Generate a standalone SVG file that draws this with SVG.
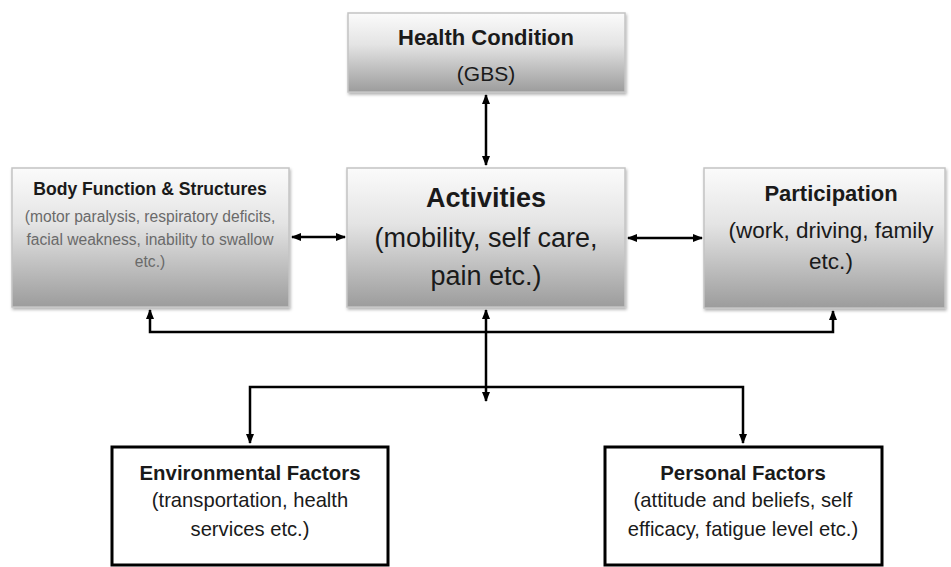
<svg xmlns="http://www.w3.org/2000/svg" width="951" height="567" viewBox="0 0 951 567">
<defs>
<linearGradient id="g" x1="0" y1="0" x2="0" y2="1">
<stop offset="0" stop-color="#fbfbfb"/>
<stop offset="0.4" stop-color="#e4e4e4"/>
<stop offset="1" stop-color="#9c9c9c"/>
</linearGradient>
<marker id="ah" viewBox="0 0 10 10" refX="9" refY="5" markerWidth="4" markerHeight="4" orient="auto-start-reverse" markerUnits="strokeWidth">
<path d="M0,1 L10,5 L0,9 z" fill="#000"/>
</marker>
<filter id="sh" x="-5%" y="-5%" width="110%" height="115%">
<feDropShadow dx="1" dy="2" stdDeviation="1.5" flood-color="#000" flood-opacity="0.3"/>
</filter>
</defs>
<style>
.gbox{fill:url(#g);stroke:#c4c4c4;stroke-width:1.5;filter:url(#sh)}
.wbox{fill:#fff;stroke:#000;stroke-width:3}
.t{font-family:"Liberation Sans",Arial,sans-serif;text-anchor:middle;fill:#1a1a1a}
.b{font-weight:bold}
.gr{fill:#6a6a6a}
.c{fill:none;stroke:#000;stroke-width:2.5}
</style>
<g id="connectors">
<path class="c" d="M486,95 V165" marker-start="url(#ah)" marker-end="url(#ah)"/>
<path class="c" d="M292,237 H345" marker-start="url(#ah)" marker-end="url(#ah)"/>
<path class="c" d="M628,238 H702" marker-start="url(#ah)" marker-end="url(#ah)"/>
<path class="c" d="M150,310 V332 H833 V311" marker-start="url(#ah)" marker-end="url(#ah)"/>
<path class="c" d="M486,310 V401" marker-start="url(#ah)" marker-end="url(#ah)"/>
<path class="c" d="M250,443 V387 H743 V443" marker-start="url(#ah)" marker-end="url(#ah)"/>
</g>
<g id="health">
<rect class="gbox" x="348" y="13" width="277" height="79"/>
<text class="t b" x="486" y="45" font-size="22">Health Condition</text>
<text class="t" x="486" y="81" font-size="21">(GBS)</text>
</g>
<g id="body">
<rect class="gbox" x="12" y="168" width="277" height="139"/>
<text class="t b" x="150" y="195" font-size="17.6">Body Function &amp; Structures</text>
<text class="t gr" x="150" y="222" font-size="15.6">(motor paralysis, respiratory deficits,</text>
<text class="t gr" x="150" y="245" font-size="15.6">facial weakness, inability to swallow</text>
<text class="t gr" x="150" y="267" font-size="15.6">etc.)</text>
</g>
<g id="activities">
<rect class="gbox" x="347" y="168" width="278" height="139"/>
<text class="t b" x="486" y="207" font-size="27">Activities</text>
<text class="t" x="486" y="247" font-size="27">(mobility, self care,</text>
<text class="t" x="486" y="285" font-size="27">pain etc.)</text>
</g>
<g id="participation">
<rect class="gbox" x="704" y="168" width="241" height="140"/>
<text class="t b" x="831" y="201" font-size="22">Participation</text>
<text class="t" x="831" y="238" font-size="22.5">(work, driving, family</text>
<text class="t" x="831" y="269" font-size="22.5">etc.)</text>
</g>
<g id="environmental">
<rect class="wbox" x="112" y="447" width="276" height="118"/>
<text class="t b" x="250" y="480" font-size="20.4">Environmental Factors</text>
<text class="t" x="250" y="507" font-size="20.2">(transportation, health</text>
<text class="t" x="250" y="536" font-size="20.2">services etc.)</text>
</g>
<g id="personal">
<rect class="wbox" x="605" y="447" width="277" height="118"/>
<text class="t b" x="743" y="480" font-size="20.4">Personal Factors</text>
<text class="t" x="743" y="507" font-size="20.2">(attitude and beliefs, self</text>
<text class="t" x="743" y="536" font-size="20.2">efficacy, fatigue level etc.)</text>
</g>
</svg>
